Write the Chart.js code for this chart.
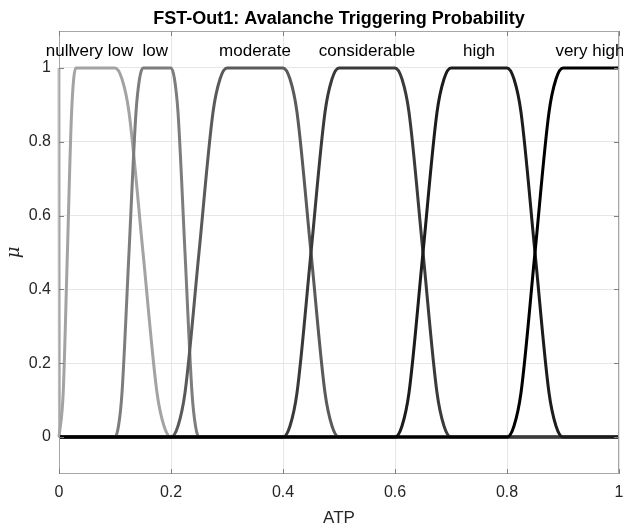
<!DOCTYPE html>
<html>
<head>
<meta charset="utf-8">
<script src="https://cdn.jsdelivr.net/npm/chart.js@4.4.1/dist/chart.umd.min.js"></script>
<style>
  html, body { margin: 0; padding: 0; background: #fff; }
  canvas { display: block; }
</style>
</head>
<body>
<canvas id="mf" width="623" height="527"></canvas>
<script>
// membership function names, label positions (ATP) and curve colours
const mfNames = ["null", "very low", "low", "moderate", "considerable", "high", "very high"];
const mfLabelX = [0, 0.077, 0.172, 0.35, 0.55, 0.75, 0.948];
const mfColors = ["#bdbdbd", "#a3a3a3", "#7d7d7d", "#5a5a5a", "#3a3a3a", "#1c1c1c", "#000000"];

// curve points
const nullX = [0, 0.001, 1];
const nullY = [1, 0, 0];
const veryLowX = [0, 0.0075, 0.015, 0.0225, 0.03, 0.1, 0.1125, 0.125, 0.15, 0.175, 0.1875, 0.2, 1];
const veryLowY = [0, 0.12, 0.5, 0.88, 1, 1, 0.97, 0.88, 0.5, 0.12, 0.03, 0, 0];
const lowX = [0, 0.1, 0.10625, 0.1125, 0.125, 0.1375, 0.14375, 0.15, 0.2, 0.20625, 0.2125, 0.225, 0.2375, 0.24375, 0.25, 1];
const lowY = [0, 0, 0.03, 0.12, 0.5, 0.88, 0.97, 1, 1, 0.97, 0.88, 0.5, 0.12, 0.03, 0, 0];
const moderateX = [0, 0.2, 0.2125, 0.225, 0.25, 0.275, 0.2875, 0.3, 0.4, 0.4125, 0.425, 0.45, 0.475, 0.4875, 0.5, 1];
const moderateY = [0, 0, 0.03, 0.12, 0.5, 0.88, 0.97, 1, 1, 0.97, 0.88, 0.5, 0.12, 0.03, 0, 0];
const considerableX = [0, 0.4, 0.4125, 0.425, 0.45, 0.475, 0.4875, 0.5, 0.6, 0.6125, 0.625, 0.65, 0.675, 0.6875, 0.7, 1];
const considerableY = [0, 0, 0.03, 0.12, 0.5, 0.88, 0.97, 1, 1, 0.97, 0.88, 0.5, 0.12, 0.03, 0, 0];
const highX = [0, 0.6, 0.6125, 0.625, 0.65, 0.675, 0.6875, 0.7, 0.8, 0.8125, 0.825, 0.85, 0.875, 0.8875, 0.9, 1];
const highY = [0, 0, 0.03, 0.12, 0.5, 0.88, 0.97, 1, 1, 0.97, 0.88, 0.5, 0.12, 0.03, 0, 0];
const veryHighX = [0, 0.8, 0.8125, 0.825, 0.85, 0.875, 0.8875, 0.9, 1];
const veryHighY = [0, 0, 0.03, 0.12, 0.5, 0.88, 0.97, 1, 1];

const xTicks = [0, 0.2, 0.4, 0.6, 0.8, 1];
const yTicks = [0, 0.2, 0.4, 0.6, 0.8, 1];

const curves = [
  [nullX, nullY], [veryLowX, veryLowY], [lowX, lowY], [moderateX, moderateY],
  [considerableX, considerableY], [highX, highY], [veryHighX, veryHighY],
];

const TEXT = "#262626";
const FONT = "'Liberation Sans', Arial, sans-serif";

// MATLAB style box, inward ticks, title, mf labels and axis titles
const decorations = {
  id: "decorations",
  afterDraw(chart) {
    const { ctx, chartArea: a, scales } = chart;
    const x = scales.x, y = scales.y;
    ctx.save();
    ctx.strokeStyle = "#a6a6a6";
    ctx.lineWidth = 1;
    ctx.strokeRect(a.left + 0.5, a.top + 0.5, a.right - a.left - 1, a.bottom - a.top - 1);
    ctx.strokeStyle = "#808080";
    ctx.beginPath();
    xTicks.forEach(v => {
      const px = Math.round(x.getPixelForValue(v)) + 0.5;
      ctx.moveTo(px, a.bottom); ctx.lineTo(px, a.bottom - 5);
      ctx.moveTo(px, a.top); ctx.lineTo(px, a.top + 5);
    });
    yTicks.forEach(v => {
      const py = Math.round(y.getPixelForValue(v)) + 0.5;
      ctx.moveTo(a.left, py); ctx.lineTo(a.left + 5, py);
      ctx.moveTo(a.right, py); ctx.lineTo(a.right - 5, py);
    });
    ctx.stroke();

    ctx.fillStyle = "#000";
    ctx.textAlign = "center";
    ctx.textBaseline = "middle";
    ctx.font = "bold 18px " + FONT;
    ctx.fillText("FST-Out1: Avalanche Triggering Probability", (a.left + a.right) / 2, 19);

    ctx.font = "17px " + FONT;
    mfNames.forEach((n, i) => {
      ctx.fillText(n, x.getPixelForValue(mfLabelX[i]), y.getPixelForValue(1.045));
    });

    ctx.fillStyle = TEXT;
    ctx.fillText("ATP", (a.left + a.right) / 2, 518);
    ctx.translate(14, (a.top + a.bottom) / 2);
    ctx.rotate(-Math.PI / 2);
    ctx.font = "italic 18px 'DejaVu Serif', serif";
    ctx.fillText("μ", 0, 0);
    ctx.restore();
  },
};

new Chart(document.getElementById("mf"), {
  type: "scatter",
  data: {
    datasets: curves.map(([xs, ys], i) => ({
      label: mfNames[i],
      data: xs.map((v, k) => ({ x: v, y: ys[k] })),
      showLine: true,
      borderColor: mfColors[i],
      backgroundColor: mfColors[i],
      borderWidth: 3,
      pointRadius: 0,
      cubicInterpolationMode: "monotone",
      clip: 4,
      order: curves.length - i,
    })),
  },
  options: {
    responsive: false,
    animation: false,
    events: [],
    layout: { padding: { top: 31, right: 4, bottom: 0, left: 0 } },
    plugins: {
      legend: { display: false },
      tooltip: { enabled: false },
      title: { display: false },
    },
    scales: {
      x: {
        type: "linear",
        min: 0,
        max: 1,
        afterBuildTicks: axis => { axis.ticks = xTicks.map(v => ({ value: v })); },
        afterFit: axis => {
          axis.height = 53;
          axis.paddingLeft = 0;
          axis.paddingRight = 0;
        },
        ticks: {
          color: TEXT,
          font: { size: 16, family: FONT },
          padding: 9,
          maxRotation: 0,
          callback: v => String(v),
        },
        grid: { color: "#e6e6e6", drawTicks: false },
        border: { display: false },
      },
      y: {
        type: "linear",
        min: -0.1,
        max: 1.1,
        afterBuildTicks: axis => { axis.ticks = yTicks.map(v => ({ value: v })); },
        afterFit: axis => {
          axis.width = 59;
          axis.paddingTop = 0;
          axis.paddingBottom = 0;
        },
        ticks: {
          color: TEXT,
          font: { size: 16, family: FONT },
          padding: 8,
          callback: v => String(v),
        },
        grid: { color: "#e6e6e6", drawTicks: false },
        border: { display: false },
      },
    },
  },
  plugins: [decorations],
});
</script>
</body>
</html>
